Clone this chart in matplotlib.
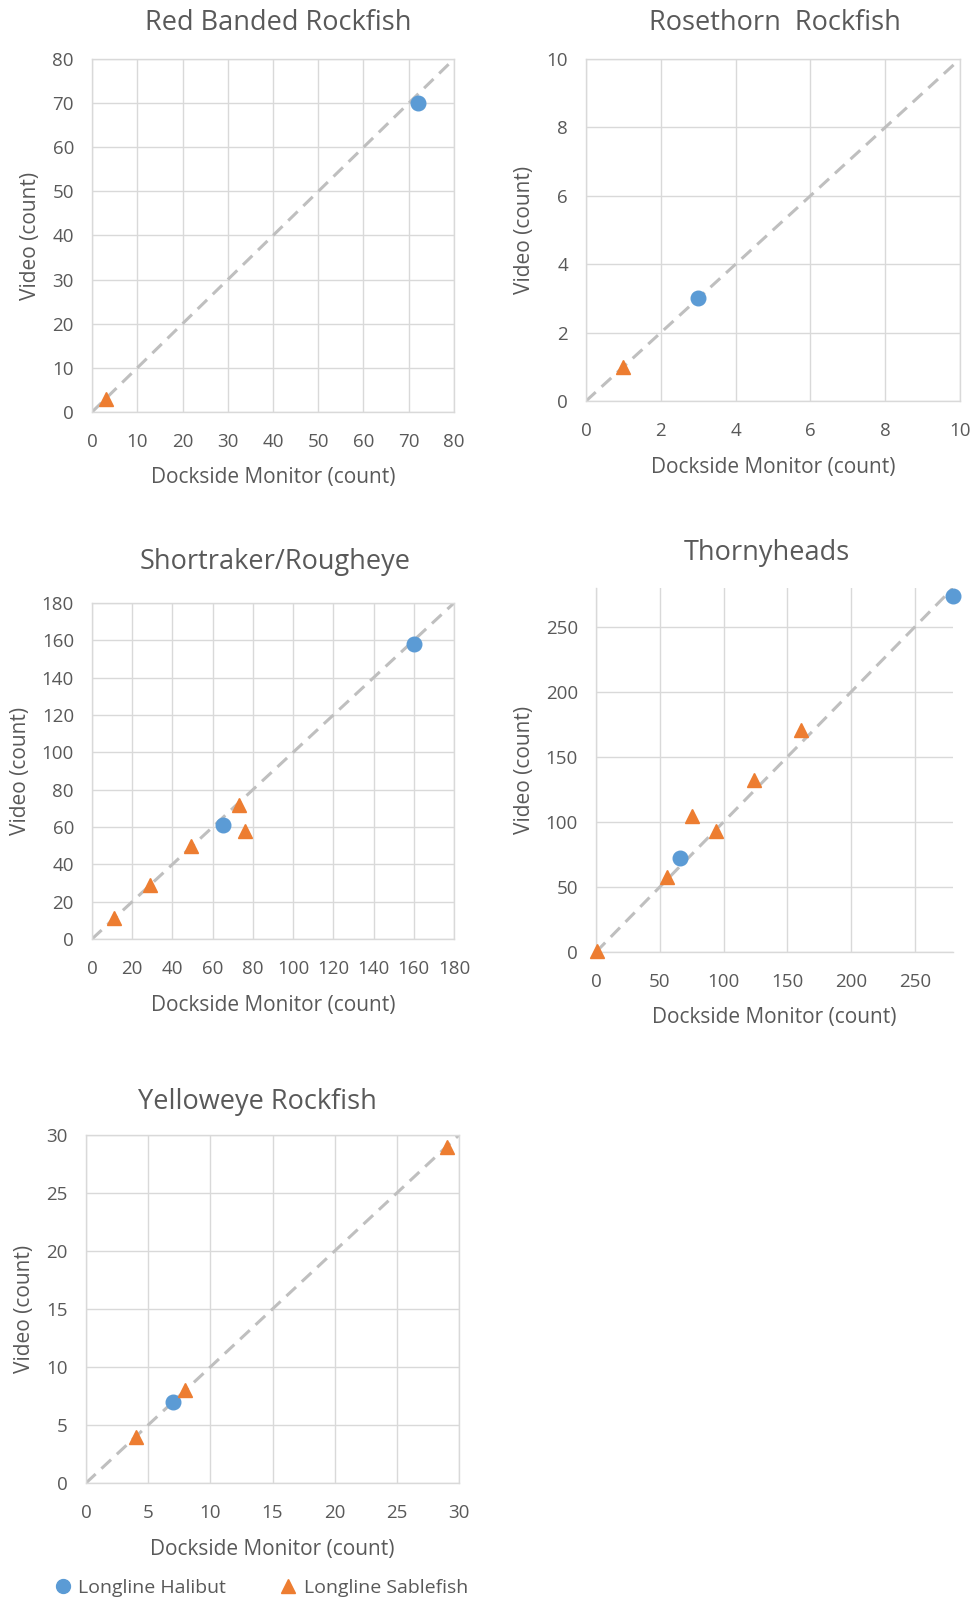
import matplotlib
matplotlib.use("Agg")
import matplotlib.pyplot as plt
from matplotlib.lines import Line2D

plt.rcParams.update({"font.family": ["Open Sans", "DejaVu Sans"], "text.color": "#595959",
                     "axes.labelcolor": "#595959", "xtick.color": "#595959", "ytick.color": "#595959"})

BLUE = "#5B9BD5"
ORANGE = "#ED7D31"
GRID = "#D9D9D9"

# Dockside monitor (x) vs video (y) counts per species
titles = ["Red Banded Rockfish", "Rosethorn  Rockfish", "Shortraker/Rougheye", "Thornyheads", "Yelloweye Rockfish"]

red_hal_x, red_hal_y = [72], [70]
red_sab_x, red_sab_y = [3], [3]

rose_hal_x, rose_hal_y = [3], [3]
rose_sab_x, rose_sab_y = [1], [1]

short_hal_x, short_hal_y = [160, 65], [158, 61]
short_sab_x, short_sab_y = [11, 29, 49, 73, 76], [11, 29, 50, 72, 58]

thorny_hal_x, thorny_hal_y = [280, 66], [274, 72]
thorny_sab_x, thorny_sab_y = [1, 56, 75, 94, 124, 161], [1, 58, 105, 93, 132, 171]

yellow_hal_x, yellow_hal_y = [7], [7]
yellow_sab_x, yellow_sab_y = [4, 8, 29], [4, 8, 29]

axis_max = [80, 10, 180, 280, 30]
tick_step = [10, 2, 20, 50, 5]
tick_max = [80, 10, 180, 250, 30]

halibut = [(red_hal_x, red_hal_y), (rose_hal_x, rose_hal_y), (short_hal_x, short_hal_y),
           (thorny_hal_x, thorny_hal_y), (yellow_hal_x, yellow_hal_y)]
sablefish = [(red_sab_x, red_sab_y), (rose_sab_x, rose_sab_y), (short_sab_x, short_sab_y),
             (thorny_sab_x, thorny_sab_y), (yellow_sab_x, yellow_sab_y)]

W, H = 975, 1605
# axes boxes in pixels: left, top, right, bottom
boxes = [(92, 59, 454, 412), (586, 59, 960, 401), (92, 603, 454, 939),
         (596, 588, 953, 952), (86, 1135, 459, 1483)]
title_pos = [(278, 23), (775, 23), (275, 562), (767, 553), (257, 1102)]

fig = plt.figure(figsize=(W / 100, H / 100), dpi=100)

for i in range(5):
    l, t, r, b = boxes[i]
    ax = fig.add_axes([l / W, 1 - b / H, (r - l) / W, (b - t) / H])
    m = axis_max[i]
    ticks = list(range(0, tick_max[i] + 1, tick_step[i]))
    ax.set_xlim(0, m)
    ax.set_ylim(0, m)
    ax.set_xticks(ticks)
    ax.set_yticks(ticks)
    ax.grid(True, color=GRID, lw=1.0)
    ax.set_axisbelow(True)
    ax.tick_params(length=0, labelsize=13.5)
    ax.tick_params(axis="x", pad=15)
    ax.tick_params(axis="y", pad=13)
    for s in ax.spines.values():
        s.set_color(GRID)
        s.set_linewidth(1.0)
    if i == 3:
        ax.spines["top"].set_visible(False)
        ax.spines["right"].set_visible(False)

    ax.plot([0, m], [0, m], color="#BFBFBF", lw=2.2, dashes=(4.3, 2.6), zorder=2)
    hx, hy = halibut[i]
    sx, sy = sablefish[i]
    ax.plot(hx, hy, "o", color=BLUE, ms=10.5, ls="none", zorder=3, clip_on=False)
    ax.plot(sx, sy, "^", color=ORANGE, ms=10.5, ls="none", zorder=3, clip_on=False)

    ax.set_xlabel("Dockside Monitor (count)", fontsize=15, labelpad=12)
    ax.set_ylabel("Video (count)", fontsize=15, labelpad=8)
    tx, ty = title_pos[i]
    fig.text(tx / W, 1 - ty / H, titles[i], fontsize=19.5, ha="center", va="center", color="#595959")

handles = [Line2D([], [], marker="o", color=BLUE, ls="none", ms=10),
           Line2D([], [], marker="^", color=ORANGE, ls="none", ms=10)]
fig.legend(handles, ["Longline Halibut", "Longline Sablefish"], loc="center left",
           bbox_to_anchor=(53 / W, 1 - 1588 / H), ncol=2, frameon=False, fontsize=14,
           handlelength=1.0, handletextpad=0.3, columnspacing=2.7, borderpad=0, borderaxespad=0,
           labelcolor="#595959")

fig.savefig("out.png", dpi=100, facecolor="white")
